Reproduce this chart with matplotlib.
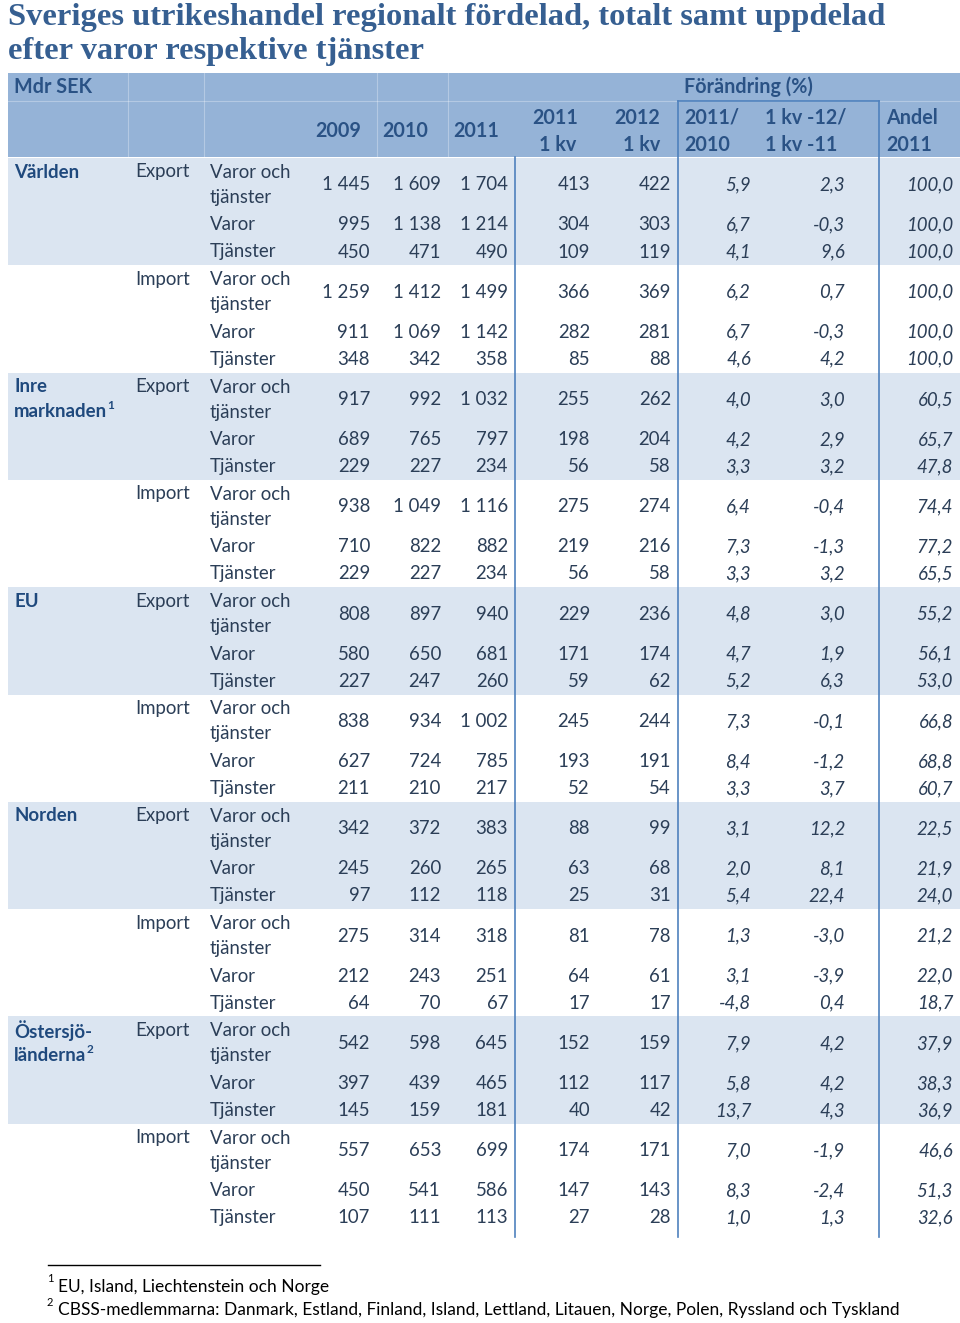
"""
Sveriges utrikeshandel regionalt fördelad - tabell ritad med matplotlib
"""

import matplotlib
matplotlib.use('Agg')
from matplotlib import pyplot as plt
from matplotlib.patches import Rectangle

# --- data ---
regions = ['Världen', 'Inre\nmarknaden', 'EU', 'Norden', 'Östersjö-\nländerna']
region_notes = [None, '1', None, None, '2']
flows = ['Export', 'Import']
items = ['Varor och\ntjänster', 'Varor', 'Tjänster']

# 30 rader: region x flöde x (varor och tjänster, varor, tjänster)
y2009 = [1445, 995, 450, 1259, 911, 348,
         917, 689, 229, 938, 710, 229,
         808, 580, 227, 838, 627, 211,
         342, 245, 97, 275, 212, 64,
         542, 397, 145, 557, 450, 107]
y2010 = [1609, 1138, 471, 1412, 1069, 342,
         992, 765, 227, 1049, 822, 227,
         897, 650, 247, 934, 724, 210,
         372, 260, 112, 314, 243, 70,
         598, 439, 159, 653, 541, 111]
y2011 = [1704, 1214, 490, 1499, 1142, 358,
         1032, 797, 234, 1116, 882, 234,
         940, 681, 260, 1002, 785, 217,
         383, 265, 118, 318, 251, 67,
         645, 465, 181, 699, 586, 113]
q1_2011 = [413, 304, 109, 366, 282, 85,
           255, 198, 56, 275, 219, 56,
           229, 171, 59, 245, 193, 52,
           88, 63, 25, 81, 64, 17,
           152, 112, 40, 174, 147, 27]
q1_2012 = [422, 303, 119, 369, 281, 88,
           262, 204, 58, 274, 216, 58,
           236, 174, 62, 244, 191, 54,
           99, 68, 31, 78, 61, 17,
           159, 117, 42, 171, 143, 28]
chg_year = [5.9, 6.7, 4.1, 6.2, 6.7, 4.6,
            4.0, 4.2, 3.3, 6.4, 7.3, 3.3,
            4.8, 4.7, 5.2, 7.3, 8.4, 3.3,
            3.1, 2.0, 5.4, 1.3, 3.1, -4.8,
            7.9, 5.8, 13.7, 7.0, 8.3, 1.0]
chg_q = [2.3, -0.3, 9.6, 0.7, -0.3, 4.2,
         3.0, 2.9, 3.2, -0.4, -1.3, 3.2,
         3.0, 1.9, 6.3, -0.1, -1.2, 3.7,
         12.2, 8.1, 22.4, -3.0, -3.9, 0.4,
         4.2, 4.2, 4.3, -1.9, -2.4, 1.3]
share = [100.0, 100.0, 100.0, 100.0, 100.0, 100.0,
         60.5, 65.7, 47.8, 74.4, 77.2, 65.5,
         55.2, 56.1, 53.0, 66.8, 68.8, 60.7,
         22.5, 21.9, 24.0, 21.2, 22.0, 18.7,
         37.9, 38.3, 36.9, 46.6, 51.3, 32.6]

footnotes = ['EU, Island, Liechtenstein och Norge',
             'CBSS-medlemmarna: Danmark, Estland, Finland, Island, Lettland, '
             'Litauen, Norge, Polen, Ryssland och Tyskland']

# --- stil ---
FONT = 'Lato'
TITLE_C = '#365F91'
HEAD_C = '#2A5285'
TEXT_C = '#2B3E57'
REG_C = '#1F497D'
HEAD_BG = '#95B3D7'
BAND_BG = '#DBE5F1'
LINE_C = '#4F81BD'
FS = 13.4
LINE_H = 25


def fmt_int(v):
    return f'{v:,}'.replace(',', ' ')


def fmt_dec(v):
    return f'{v:.1f}'.replace('.', ',')


fig = plt.figure(figsize=(9.6, 13.23), dpi=100)
ax = fig.add_axes([0, 0, 1, 1])
ax.set_xlim(0, 960)
ax.set_ylim(1323, 0)
ax.axis('off')

# titel
ax.text(8, 17, 'Sveriges utrikeshandel regionalt fördelad, totalt samt uppdelad',
        family='Liberation Serif', weight='bold', fontsize=23.4, color=TITLE_C, va='center')
ax.text(8, 51, 'efter varor respektive tjänster',
        family='Liberation Serif', weight='bold', fontsize=23.4, color=TITLE_C, va='center')

# rubrikfält
ax.add_patch(Rectangle((8, 73), 952, 84, color=HEAD_BG, lw=0))
for x in [128, 204, 377, 448]:
    ax.plot([x, x], [73, 157], color='white', lw=0.8, alpha=0.3)
ax.plot([8, 960], [101, 101], color='white', lw=0.8, alpha=0.3)

hd = dict(family=FONT, weight='bold', fontsize=14.2, color=HEAD_C, va='center')
ax.text(14, 87, 'Mdr SEK', ha='left', **hd)
ax.text(684, 87, 'Förändring (%)', ha='left', **hd)
for x, lab in [(361, '2009'), (428, '2010'), (499, '2011')]:
    ax.text(x, 131, lab, ha='right', **hd)
ax.text(578, 118, '2011', ha='right', **hd)
ax.text(576, 145, '1 kv', ha='right', **hd)
ax.text(660, 118, '2012', ha='right', **hd)
ax.text(660, 145, '1 kv', ha='right', **hd)
ax.text(684, 118, '2011/', ha='left', **hd)
ax.text(684, 145, '2010', ha='left', **hd)
ax.text(765, 118, '1 kv -12/', ha='left', **hd)
ax.text(765, 145, '1 kv -11', ha='left', **hd)
ax.text(886, 118, 'Andel', ha='left', **hd)
ax.text(886, 145, '2011', ha='left', **hd)

# kroppen
group_h = 107.3
top0 = 158
row_off = [27, 67, 94]
num_cols = [(370, y2009, fmt_int, 'normal'), (441, y2010, fmt_int, 'normal'),
            (508, y2011, fmt_int, 'normal'), (590, q1_2011, fmt_int, 'normal'),
            (671, q1_2012, fmt_int, 'normal'), (751, chg_year, fmt_dec, 'italic'),
            (845, chg_q, fmt_dec, 'italic'), (953, share, fmt_dec, 'italic')]

tx = dict(family=FONT, fontsize=FS, color=TEXT_C, va='center')
for r, reg in enumerate(regions):
    for f, flow in enumerate(flows):
        g = r * 2 + f
        top = top0 + g * group_h
        if f == 0:
            ax.add_patch(Rectangle((8, top), 952, group_h, color=BAND_BG, lw=0))
            lines = reg.split('\n')
            for j, line in enumerate(lines):
                t = ax.text(14, top + 14 + j * LINE_H, line, family=FONT, weight='bold',
                            fontsize=FS, color=REG_C, va='center', ha='left')
            if region_notes[r]:
                ax.annotate(region_notes[r], xy=(1, 0.55), xycoords=t, xytext=(0.3, 0),
                            textcoords='offset points', family=FONT, weight='bold',
                            fontsize=8.5, color=REG_C, va='bottom', ha='left')
        ax.text(135, top + 14, flow, ha='left', **tx)
        for i, item in enumerate(items):
            k = g * 3 + i
            y = top + row_off[i]
            parts = item.split('\n')
            for j, part in enumerate(parts):
                ax.text(210, y + (j - (len(parts) - 1) / 2) * LINE_H, part, ha='left', **tx)
            for x, col, fn, style in num_cols:
                ax.text(x, y, fn(col[k]), ha='right', style=style, **tx)

# linjer
bottom = 1237
ax.plot([515, 515], [157, bottom], color=LINE_C, lw=1.2)
ax.plot([678, 678], [101, bottom], color=LINE_C, lw=1.2)
ax.plot([879, 879], [101, bottom], color=LINE_C, lw=1.2)
ax.plot([678, 879], [101, 101], color=LINE_C, lw=1.2)

# fotnoter
ax.plot([48, 320], [1265, 1265], color='black', lw=1)
for i, note in enumerate(footnotes):
    y = 1287 + i * 23
    ax.text(47, y - 8, str(i + 1), family=FONT, fontsize=8, color='black',
            va='center', ha='left')
    ax.text(58, y, note, family=FONT, fontsize=12.5, color='black', va='center', ha='left')

fig.savefig('out.png', dpi=100)
